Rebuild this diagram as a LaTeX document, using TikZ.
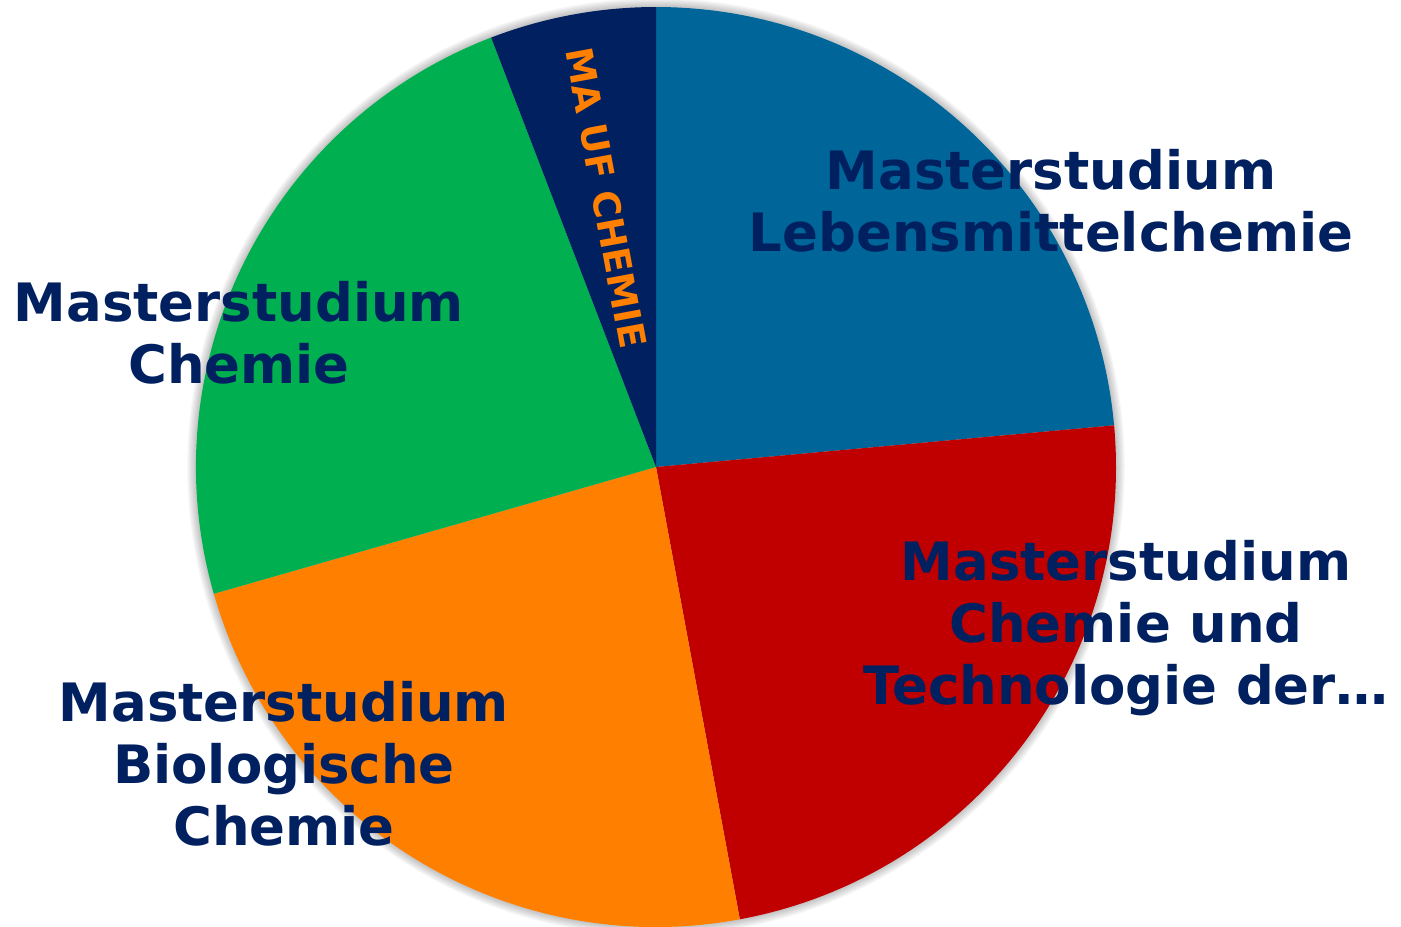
\documentclass[tikz,border=0pt]{standalone}
\usepackage{fontspec}
\setmainfont{DejaVu Sans}
\usetikzlibrary{calc}
\definecolor{slblue}{RGB}{0,102,153}
\definecolor{slred}{RGB}{192,0,0}
\definecolor{slorange}{RGB}{255,128,0}
\definecolor{slgreen}{RGB}{0,176,80}
\definecolor{slnavy}{RGB}{0,32,96}

\begin{document}
\begin{tikzpicture}[
    label/.style={align=center, text=slnavy, font=\bfseries\fontsize{30.1}{35.2}\selectfont, inner sep=0pt},
    small/.style={text=slorange, font=\bfseries\fontsize{21}{25}\selectfont, inner sep=0pt}
  ]
  \useasboundingbox (0,0) rectangle (28.02,-18.52);
  \coordinate (c) at (13.12,-9.34);
  % soft shadow round the pie
  \foreach \i in {1,...,7}
    \fill[black, opacity=0.035] (c) circle[radius=9.2cm+\i*0.025cm];
  % slices
  \fill[slblue] (c) -- ++(90:9.2) arc[start angle=90, end angle=5.2, radius=9.2] -- cycle;
  \fill[slred] (c) -- ++(5.2:9.2) arc[start angle=5.2, end angle=-79.5, radius=9.2] -- cycle;
  \fill[slorange] (c) -- ++(-79.5:9.2) arc[start angle=-79.5, end angle=-164, radius=9.2] -- cycle;
  \fill[slgreen] (c) -- ++(196:9.2) arc[start angle=196, end angle=111, radius=9.2] -- cycle;
  \fill[slnavy] (c) -- ++(111:9.2) arc[start angle=111, end angle=90, radius=9.2] -- cycle;
  % labels
  \node[label] (leb) at (21.02,-4.02) {Masterstudium\\Lebensmittelchemie};
  \node[label] (tech) at (22.52,-12.56) {Masterstudium\\Chemie und\\Technologie der…};
  \node[label] (bio) at (5.68,-15.28) {Masterstudium\\Biologische\\Chemie};
  \node[label] (chem) at (4.78,-6.66) {Masterstudium\\Chemie};
  \node[small, rotate=-79.5] (uf) at ($(c)+(100.5:5.48)$) {MA UF CHEMIE};
\end{tikzpicture}
\end{document}
